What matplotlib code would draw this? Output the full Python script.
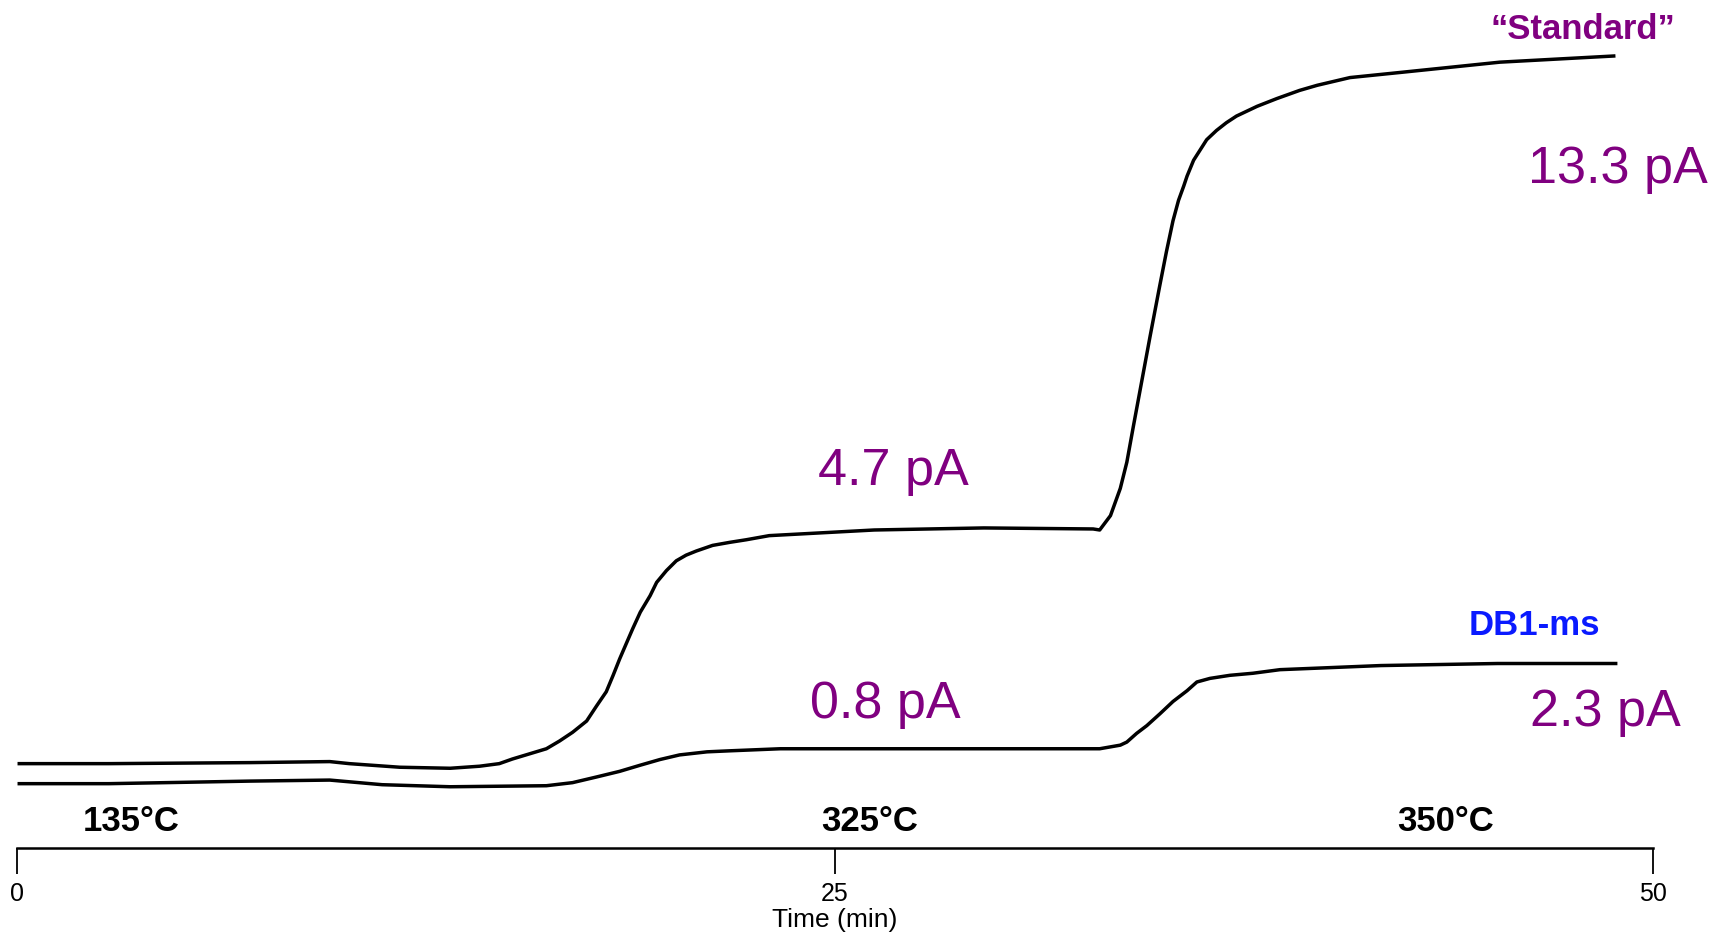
import matplotlib.pyplot as plt

plt.rcParams['font.family'] = ['Liberation Sans', 'DejaVu Sans']

# Traces (time in min, signal in pA, arbitrary offset)
std_time = [0.07, 2.81, 7.12, 9.56, 10.16, 11.70, 13.24, 14.14, 14.74, 15.14, 16.18,
            16.58, 16.98, 17.41, 17.71, 18.01, 18.22, 18.42, 18.65, 18.82, 19.05,
            19.35, 19.55, 19.85, 20.15, 20.45, 20.76, 21.26, 21.79, 22.29, 22.99,
            26.20, 29.55, 32.89, 33.09, 33.42, 33.72, 33.92, 34.12, 34.33, 34.63,
            34.93, 35.13, 35.33, 35.50, 35.66, 35.76, 35.96, 36.16, 36.36, 36.66,
            36.96, 37.27, 37.90, 38.50, 39.20, 39.74, 40.74, 42.28, 45.32, 48.80]
std_signal = [0.43, 0.43, 0.45, 0.47, 0.43, 0.36, 0.34, 0.38, 0.43, 0.52, 0.72,
              0.87, 1.04, 1.26, 1.55, 1.83, 2.15, 2.47, 2.81, 3.06, 3.38,
              3.70, 3.96, 4.19, 4.38, 4.49, 4.57, 4.68, 4.74, 4.79, 4.87,
              4.98, 5.02, 5.00, 4.98, 5.26, 5.79, 6.30, 7.00, 7.72, 8.75,
              9.75, 10.40, 11.00, 11.40, 11.68, 11.87, 12.18, 12.38, 12.58, 12.76,
              12.91, 13.04, 13.23, 13.38, 13.54, 13.64, 13.79, 13.89, 14.09, 14.21]

db1_time = [0.07, 2.81, 7.12, 9.56, 11.16, 13.24, 16.18, 16.98, 17.71, 18.42, 19.05,
            19.65, 20.25, 21.09, 21.79, 23.33, 26.20, 29.55, 32.49, 33.09, 33.72,
            33.92, 34.22, 34.53, 34.93, 35.33, 35.76, 36.06, 36.46, 37.07, 37.77,
            38.60, 40.14, 41.68, 45.25, 48.86]
db1_signal = [0.04, 0.04, 0.09, 0.11, 0.02, -0.02, 0.00, 0.06, 0.17, 0.28, 0.40,
              0.51, 0.60, 0.66, 0.68, 0.72, 0.72, 0.72, 0.72, 0.72, 0.79,
              0.85, 1.02, 1.17, 1.40, 1.64, 1.85, 2.02, 2.09, 2.15, 2.19,
              2.26, 2.30, 2.34, 2.38, 2.38]

# step labels: (text, time, signal)
step_labels = [('13.3 pA', 48.93, 12.02), ('4.7 pA', 26.8, 6.13),
               ('0.8 pA', 26.54, 1.60), ('2.3 pA', 48.53, 1.45)]
temp_labels = ['135°C', '325°C', '350°C']
temp_times = [3.48, 26.07, 43.65]
xticks = [0, 25, 50]

purple = '#800080'

fig = plt.figure(figsize=(17.14, 9.37), dpi=100)
ax = fig.add_axes([0.0099, 0.0939, 0.9545, 0.9061])

ax.plot(std_time, std_signal, color='black', lw=2.5, solid_joinstyle='round')
ax.plot(db1_time, db1_signal, color='black', lw=2.5, solid_joinstyle='round')

ax.set_xlim(0, 50)
ax.set_ylim(-1.213, 15.32)

for txt, t, s in step_labels:
    ax.text(t, s, txt, color=purple, fontsize=37.5, ha='center', va='center',
            clip_on=False)

ax.text(47.86, 14.74, '\u201cStandard\u201d', color=purple, fontsize=25,
        fontweight='bold', ha='center', va='center', clip_on=False)
ax.text(46.36, 3.13, 'DB1-ms', color='#0a1aff', fontsize=25,
        fontweight='bold', ha='center', va='center', clip_on=False)

for lab, t in zip(temp_labels, temp_times):
    ax.text(t, -0.68, lab, color='black', fontsize=25, fontweight='bold',
            ha='center', va='center')

# axis styling: only a bottom time axis
for side in ['left', 'right', 'top']:
    ax.spines[side].set_visible(False)
ax.spines['bottom'].set_linewidth(1.8)
ax.set_yticks([])
ax.set_xticks(xticks)
ax.tick_params(axis='x', direction='out', length=19, width=1.3, pad=5,
               labelsize=18)
for lbl in ax.get_xticklabels():
    lbl.set_family(['Liberation Sans Narrow', 'Liberation Sans'])
ax.set_xlabel('Time (min)', fontsize=19, labelpad=1,
              family=['Liberation Sans Narrow', 'Liberation Sans'])

fig.savefig('out.png', dpi=100)
